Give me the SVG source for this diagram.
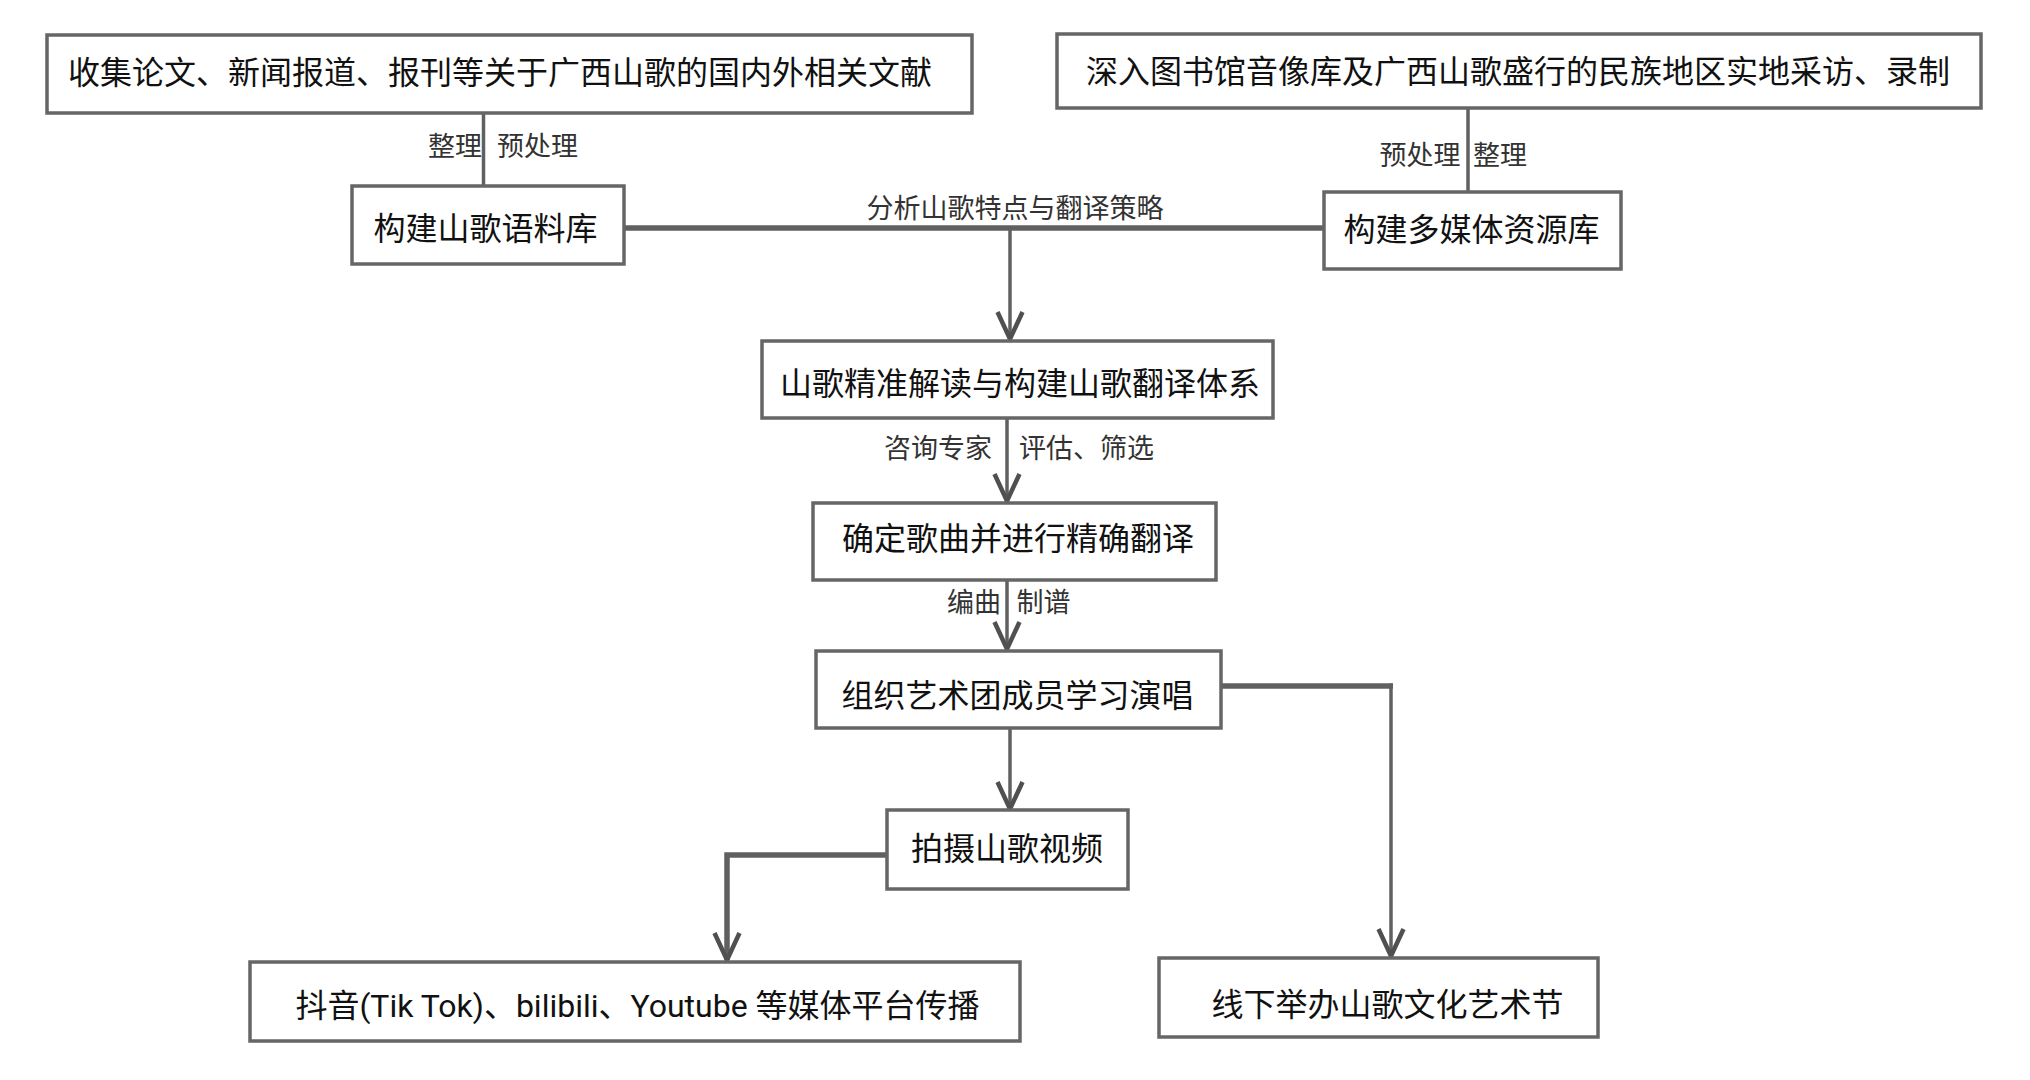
<svg xmlns="http://www.w3.org/2000/svg" width="2030" height="1080" viewBox="0 0 2030 1080">
<style>
.box{fill:#ffffff;stroke:#666666;stroke-width:3.5}
.t{font-family:"Noto Sans CJK SC","Noto Sans",sans-serif;font-size:32px;fill:#111111;text-anchor:middle}
.tm{font-family:Roboto,"Noto Sans CJK SC",sans-serif;font-size:32px;fill:#111111;text-anchor:middle}
.lb{font-family:"Noto Sans CJK SC","Noto Sans",sans-serif;font-size:27px;fill:#333333;text-anchor:middle}
.c{fill:none;stroke:#606060;stroke-width:3.5}
.ct{fill:none;stroke:#606060;stroke-width:5.5}
</style>
<defs>
<marker id="v" markerUnits="userSpaceOnUse" markerWidth="32" markerHeight="32" viewBox="0 0 32 32" refX="29" refY="16" orient="auto">
<path d="M2,3.5 L29,16 L2,28.5" fill="none" stroke="#505050" stroke-width="4.5"/>
</marker>
</defs>
<rect width="2030" height="1080" fill="#ffffff"/>
<g id="connectors">
<path class="c" d="M483.5,113 L483.5,186"/>
<path class="c" d="M1468,108 L1468,192"/>
<path class="ct" d="M624,228 L1324,228"/>
<path class="c" d="M1010,228 L1010,339" marker-end="url(#v)"/>
<path class="c" d="M1007,418 L1007,501" marker-end="url(#v)"/>
<path class="c" d="M1007,580 L1007,649" marker-end="url(#v)"/>
<path class="c" d="M1010,728 L1010,809" marker-end="url(#v)"/>
<path class="ct" d="M887,855 L727,855 L727,960" marker-end="url(#v)"/>
<path class="ct" d="M1221,686 L1393,686"/>
<path class="c" d="M1391,683.5 L1391,956" marker-end="url(#v)"/>
<text class="lb" x="455" y="156">整理</text>
<text class="lb" x="537.5" y="156">预处理</text>
<text class="lb" x="1420" y="165">预处理</text>
<text class="lb" x="1500" y="165">整理</text>
<text class="lb" x="1015" y="218">分析山歌特点与翻译策略</text>
<text class="lb" x="938" y="458">咨询专家</text>
<text class="lb" x="1086.5" y="458">评估、筛选</text>
<text class="lb" x="974" y="612">编曲</text>
<text class="lb" x="1043.5" y="612">制谱</text>
</g>
<g id="n1"><rect class="box" x="47" y="35" width="925" height="78"/><text class="t" x="500" y="83.5">收集论文、新闻报道、报刊等关于广西山歌的国内外相关文献</text></g>
<g id="n2"><rect class="box" x="1057" y="34" width="924" height="74"/><text class="t" x="1518" y="83">深入图书馆音像库及广西山歌盛行的民族地区实地采访、录制</text></g>
<g id="n3"><rect class="box" x="352" y="186" width="272" height="78"/><text class="t" x="485.5" y="239.5">构建山歌语料库</text></g>
<g id="n4"><rect class="box" x="1324" y="192" width="297" height="77"/><text class="t" x="1471.5" y="240.5">构建多媒体资源库</text></g>
<g id="n5"><rect class="box" x="762" y="341" width="511" height="77"/><text class="t" x="1020" y="394.5">山歌精准解读与构建山歌翻译体系</text></g>
<g id="n6"><rect class="box" x="813" y="503" width="403" height="77"/><text class="t" x="1018" y="549.5">确定歌曲并进行精确翻译</text></g>
<g id="n7"><rect class="box" x="816" y="651" width="405" height="77"/><text class="t" x="1017.5" y="706.5">组织艺术团成员学习演唱</text></g>
<g id="n8"><rect class="box" x="887" y="810" width="241" height="79"/><text class="t" x="1007" y="859.5">拍摄山歌视频</text></g>
<g id="n9"><rect class="box" x="250" y="962" width="770" height="79"/><text class="tm" x="637.5" y="1016.5">抖音(Tik Tok)、bilibili、Youtube 等媒体平台传播</text></g>
<g id="n10"><rect class="box" x="1159" y="958" width="439" height="79"/><text class="t" x="1387.5" y="1015.5">线下举办山歌文化艺术节</text></g>
</svg>
